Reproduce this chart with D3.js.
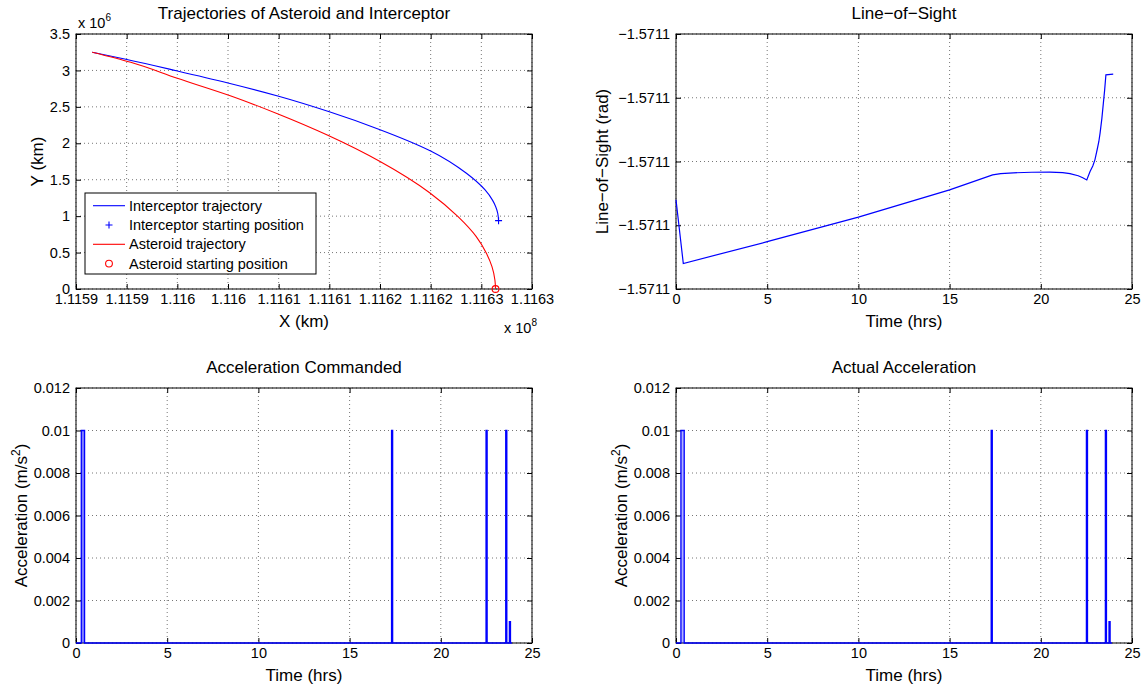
<!DOCTYPE html>
<html lang="en">
<head>
<meta charset="UTF-8">
<title>Asteroid Interception</title>
<script src="https://d3js.org/d3.v7.min.js"></script>
<style>
  body { margin: 0; background: #fff; }
  svg { display: block; font-family: 'Liberation Sans', Arial, Helvetica, sans-serif; }
</style>
</head>
<body>
<div id="chart"></div>
<script>
// trajectories: X in units of 1e8 km, Y in units of 1e6 km
const interceptorX = [1.115916, 1.115948, 1.115999, 1.11605, 1.1161, 1.11615, 1.1161994, 1.11625, 1.1162853, 1.1163037, 1.116311, 1.1163142, 1.1163162, 1.116317];
const interceptorY = [3.249, 3.157, 2.996, 2.827, 2.645, 2.432, 2.19, 1.894, 1.588, 1.359, 1.22, 1.13, 1.039, 0.938];
const asteroidX = [1.115916, 1.115954, 1.1160, 1.1160522, 1.1160994, 1.1161485, 1.1162005, 1.116249, 1.116277, 1.116295, 1.116305, 1.1163105, 1.1163134, 1.116314];
const asteroidY = [3.249, 3.111, 2.892, 2.653, 2.402, 2.11, 1.747, 1.322, 0.992, 0.718, 0.49, 0.306, 0.124, 0];
const trajXTicks = [1.1159, 1.11595, 1.1160, 1.11605, 1.1161, 1.11615, 1.1162, 1.11625, 1.1163, 1.11635];
const trajXTickLabels = ['1.1159', '1.1159', '1.116', '1.116', '1.1161', '1.1161', '1.1162', '1.1162', '1.1163', '1.1163'];
const trajYTicks = [0, 0.5, 1, 1.5, 2, 2.5, 3, 3.5];
const legendLabels = ['Interceptor trajectory', 'Interceptor starting position', 'Asteroid trajectory', 'Asteroid starting position'];

// line-of-sight, measured in tick steps above the lowest tick (every tick prints as -1.5711)
const losTime = [0, 0.4, 5, 10, 15, 17.36, 17.8, 18.5, 19.5, 20.5, 21.2, 21.6, 22.05, 22.3, 22.52, 22.7, 22.85, 22.97, 23.1, 23.18, 23.25, 23.35, 23.43, 23.5, 23.57, 23.97];
const losValue = [1.40, 0.40, 0.742, 1.128, 1.556, 1.79, 1.81, 1.822, 1.831, 1.834, 1.825, 1.81, 1.776, 1.745, 1.71, 1.843, 1.93, 2.03, 2.2, 2.31, 2.445, 2.68, 2.915, 3.12, 3.36, 3.37];
const losTicks = [0, 1, 2, 3, 4];
const losTickLabels = ['\u22121.5711', '\u22121.5711', '\u22121.5711', '\u22121.5711', '\u22121.5711'];

const timeTicks = [0, 5, 10, 15, 20, 25];
const accelTicks = [0, 0.002, 0.004, 0.006, 0.008, 0.01, 0.012];
const accelEndTime = 23.9;
const cmdPulseStart = [0.29, 17.30, 22.48, 23.56, 23.76];
const cmdPulseEnd   = [0.47, 17.36, 22.54, 23.62, 23.82];
const cmdPulseValue = [0.01, 0.01, 0.01, 0.01, 0.001];
const actPulseStart = [0.27, 17.28, 22.50, 23.54, 23.74];
const actPulseEnd   = [0.45, 17.34, 22.56, 23.60, 23.80];
const actPulseValue = [0.01, 0.01, 0.01, 0.01, 0.001];

const W = 1146, H = 686;
const TICK_FS = 14.5, LABEL_FS = 17;
const BLUE = '#0000ff', RED = '#ff0000';

const svg = d3.select('#chart').append('svg').attr('width', W).attr('height', H);
svg.append('rect').attr('width', W).attr('height', H).attr('fill', '#fff');

function drawFrame(p, x, y, xTicks, yTicks, xFmt, yFmt) {
  const g = svg.append('g').attr('transform', `translate(${p.x},${p.y})`);
  const grid = g.append('g').attr('stroke', '#777').attr('stroke-width', 1).attr('stroke-dasharray', '1,3');
  grid.selectAll('line.gx').data(xTicks).join('line').attr('class', 'gx')
    .attr('x1', d => x(d)).attr('x2', d => x(d)).attr('y1', 0).attr('y2', p.h);
  grid.selectAll('line.gy').data(yTicks).join('line').attr('class', 'gy')
    .attr('x1', 0).attr('x2', p.w).attr('y1', d => y(d)).attr('y2', d => y(d));
  const axes = [
    [d3.axisBottom(x).tickValues(xTicks).tickFormat(xFmt).tickPadding(5), `translate(0,${p.h})`],
    [d3.axisTop(x).tickValues(xTicks).tickFormat(''), 'translate(0,0)'],
    [d3.axisLeft(y).tickValues(yTicks).tickFormat(yFmt).tickPadding(6), 'translate(0,0)'],
    [d3.axisRight(y).tickValues(yTicks).tickFormat(''), `translate(${p.w},0)`]
  ];
  axes.forEach(([ax, tr]) => {
    const a = g.append('g').attr('transform', tr)
      .call(ax.tickSizeInner(-5).tickSizeOuter(0));
    a.attr('font-size', TICK_FS).attr('font-family', null);
    a.select('.domain').remove();
    a.selectAll('line').attr('stroke', '#000');
    a.selectAll('text').attr('fill', '#000');
  });
  g.append('rect').attr('width', p.w).attr('height', p.h)
    .attr('fill', 'none').attr('stroke', '#000').attr('stroke-width', 1);
  return g;
}

function addTitle(p, text) {
  svg.append('text').attr('x', p.x + p.w / 2).attr('y', p.y - 15)
    .attr('text-anchor', 'middle').attr('font-size', LABEL_FS).text(text);
}
function addXLabel(p, text) {
  svg.append('text').attr('x', p.x + p.w / 2).attr('y', p.y + p.h + 38)
    .attr('text-anchor', 'middle').attr('font-size', LABEL_FS).text(text);
}
function addYLabel(p, bx, text, sup) {
  const t = svg.append('text').attr('transform', `translate(${bx},${p.y + p.h / 2}) rotate(-90)`)
    .attr('text-anchor', 'middle').attr('font-size', LABEL_FS).text(text);
  if (sup) {
    t.append('tspan').attr('font-size', LABEL_FS * 0.7).attr('dy', -7).text(sup);
    t.append('tspan').attr('dy', 7).text(')');
  }
}

// ---------- Trajectories ----------
const pTL = { x: 76, y: 34, w: 456, h: 255 };
{
  const x = d3.scaleLinear().domain([1.1159, 1.11635]).range([0, pTL.w]);
  const y = d3.scaleLinear().domain([0, 3.5]).range([pTL.h, 0]);
  const g = drawFrame(pTL, x, y, trajXTicks, trajYTicks, (d, i) => trajXTickLabels[i], d => d);
  // x is a smooth function of y along both paths, so interpolate along y
  const line = d3.line().x(d => x(d[0])).y(d => y(d[1])).curve(d3.curveMonotoneY);
  g.append('path').datum(interceptorX.map((v, i) => [v, interceptorY[i]]).reverse())
    .attr('d', line).attr('fill', 'none').attr('stroke', BLUE).attr('stroke-width', 1.1);
  g.append('path').datum(asteroidX.map((v, i) => [v, asteroidY[i]]).reverse())
    .attr('d', line).attr('fill', 'none').attr('stroke', RED).attr('stroke-width', 1.1);
  const ix = x(interceptorX[interceptorX.length - 1]), iy = y(interceptorY[interceptorY.length - 1]);
  g.append('path').attr('d', `M${ix - 3.5},${iy}H${ix + 3.5}M${ix},${iy - 3.5}V${iy + 3.5}`)
    .attr('stroke', BLUE).attr('stroke-width', 1.1);
  g.append('circle').attr('cx', x(asteroidX[asteroidX.length - 1])).attr('cy', y(asteroidY[asteroidY.length - 1]))
    .attr('r', 3.4).attr('fill', 'none').attr('stroke', RED).attr('stroke-width', 1.1);

  // legend
  const lg = svg.append('g').attr('transform', 'translate(85,193)');
  lg.append('rect').attr('width', 231).attr('height', 81).attr('fill', '#fff').attr('stroke', '#000');
  const row = i => 12.7 + i * 19.3;
  lg.selectAll('text').data(legendLabels).join('text')
    .attr('x', 44).attr('y', (d, i) => row(i)).attr('dy', '0.35em')
    .attr('font-size', 14.5).text(d => d);
  [[0, BLUE], [2, RED]].forEach(([i, c]) => {
    lg.append('line').attr('x1', 8).attr('x2', 40).attr('y1', row(i)).attr('y2', row(i))
      .attr('stroke', c).attr('stroke-width', 1.1);
  });
  lg.append('path').attr('d', `M20.5,${row(1)}H27.5M24,${row(1) - 3.5}V${row(1) + 3.5}`)
    .attr('stroke', BLUE).attr('stroke-width', 1.1);
  lg.append('circle').attr('cx', 24).attr('cy', row(3)).attr('r', 3.4)
    .attr('fill', 'none').attr('stroke', RED).attr('stroke-width', 1.1);

  addTitle(pTL, 'Trajectories of Asteroid and Interceptor');
  addXLabel(pTL, 'X (km)');
  addYLabel(pTL, 43, 'Y (km)');
  const e6 = svg.append('text').attr('x', 78).attr('y', 28).attr('font-size', TICK_FS).text('x 10');
  e6.append('tspan').attr('font-size', 10).attr('dy', -7).text('6');
  const e8 = svg.append('text').attr('x', 537).attr('y', 333).attr('text-anchor', 'end').attr('font-size', TICK_FS).text('x 10');
  e8.append('tspan').attr('font-size', 10).attr('dy', -7).text('8');
}

// ---------- Line-of-Sight ----------
const pTR = { x: 676, y: 34, w: 456, h: 255 };
{
  const x = d3.scaleLinear().domain([0, 25]).range([0, pTR.w]);
  const y = d3.scaleLinear().domain([0, 4]).range([pTR.h, 0]);
  const g = drawFrame(pTR, x, y, timeTicks, losTicks, d => d, (d, i) => losTickLabels[i]);
  g.append('path').datum(losTime.map((t, i) => [t, losValue[i]]))
    .attr('d', d3.line().x(d => x(d[0])).y(d => y(d[1])))
    .attr('fill', 'none').attr('stroke', BLUE).attr('stroke-width', 1.2);
  addTitle(pTR, 'Line\u2212of\u2212Sight');
  addXLabel(pTR, 'Time (hrs)');
  addYLabel(pTR, 608, 'Line\u2212of\u2212Sight (rad)');
}

// ---------- Acceleration panels ----------
function accelSeries(starts, ends, vals) {
  const pts = [[0, 0]];
  starts.forEach((s, i) => {
    pts.push([s, 0], [s, vals[i]], [ends[i], vals[i]], [ends[i], 0]);
  });
  pts.push([accelEndTime, 0]);
  return pts;
}
function accelPanel(p, title, labelX, starts, ends, vals, fillOpacity) {
  const x = d3.scaleLinear().domain([0, 25]).range([0, p.w]);
  const y = d3.scaleLinear().domain([0, 0.012]).range([p.h, 0]);
  const g = drawFrame(p, x, y, timeTicks, accelTicks, d => d, d => d);
  const pts = accelSeries(starts, ends, vals);
  g.append('path').datum(pts)
    .attr('d', d3.area().x(d => x(d[0])).y0(y(0)).y1(d => y(d[1])))
    .attr('fill', BLUE).attr('fill-opacity', fillOpacity).attr('stroke', 'none');
  g.append('path').datum(pts)
    .attr('d', d3.line().x(d => x(d[0])).y(d => y(d[1])))
    .attr('fill', 'none').attr('stroke', BLUE).attr('stroke-width', 1.3);
  addTitle(p, title);
  addXLabel(p, 'Time (hrs)');
  addYLabel(p, labelX, 'Acceleration (m/s', '2');
}
accelPanel({ x: 76, y: 388, w: 456, h: 255 }, 'Acceleration Commanded', 27, cmdPulseStart, cmdPulseEnd, cmdPulseValue, 0.5);
accelPanel({ x: 676, y: 388, w: 456, h: 255 }, 'Actual Acceleration', 627, actPulseStart, actPulseEnd, actPulseValue, 0.3);
</script>
</body>
</html>
